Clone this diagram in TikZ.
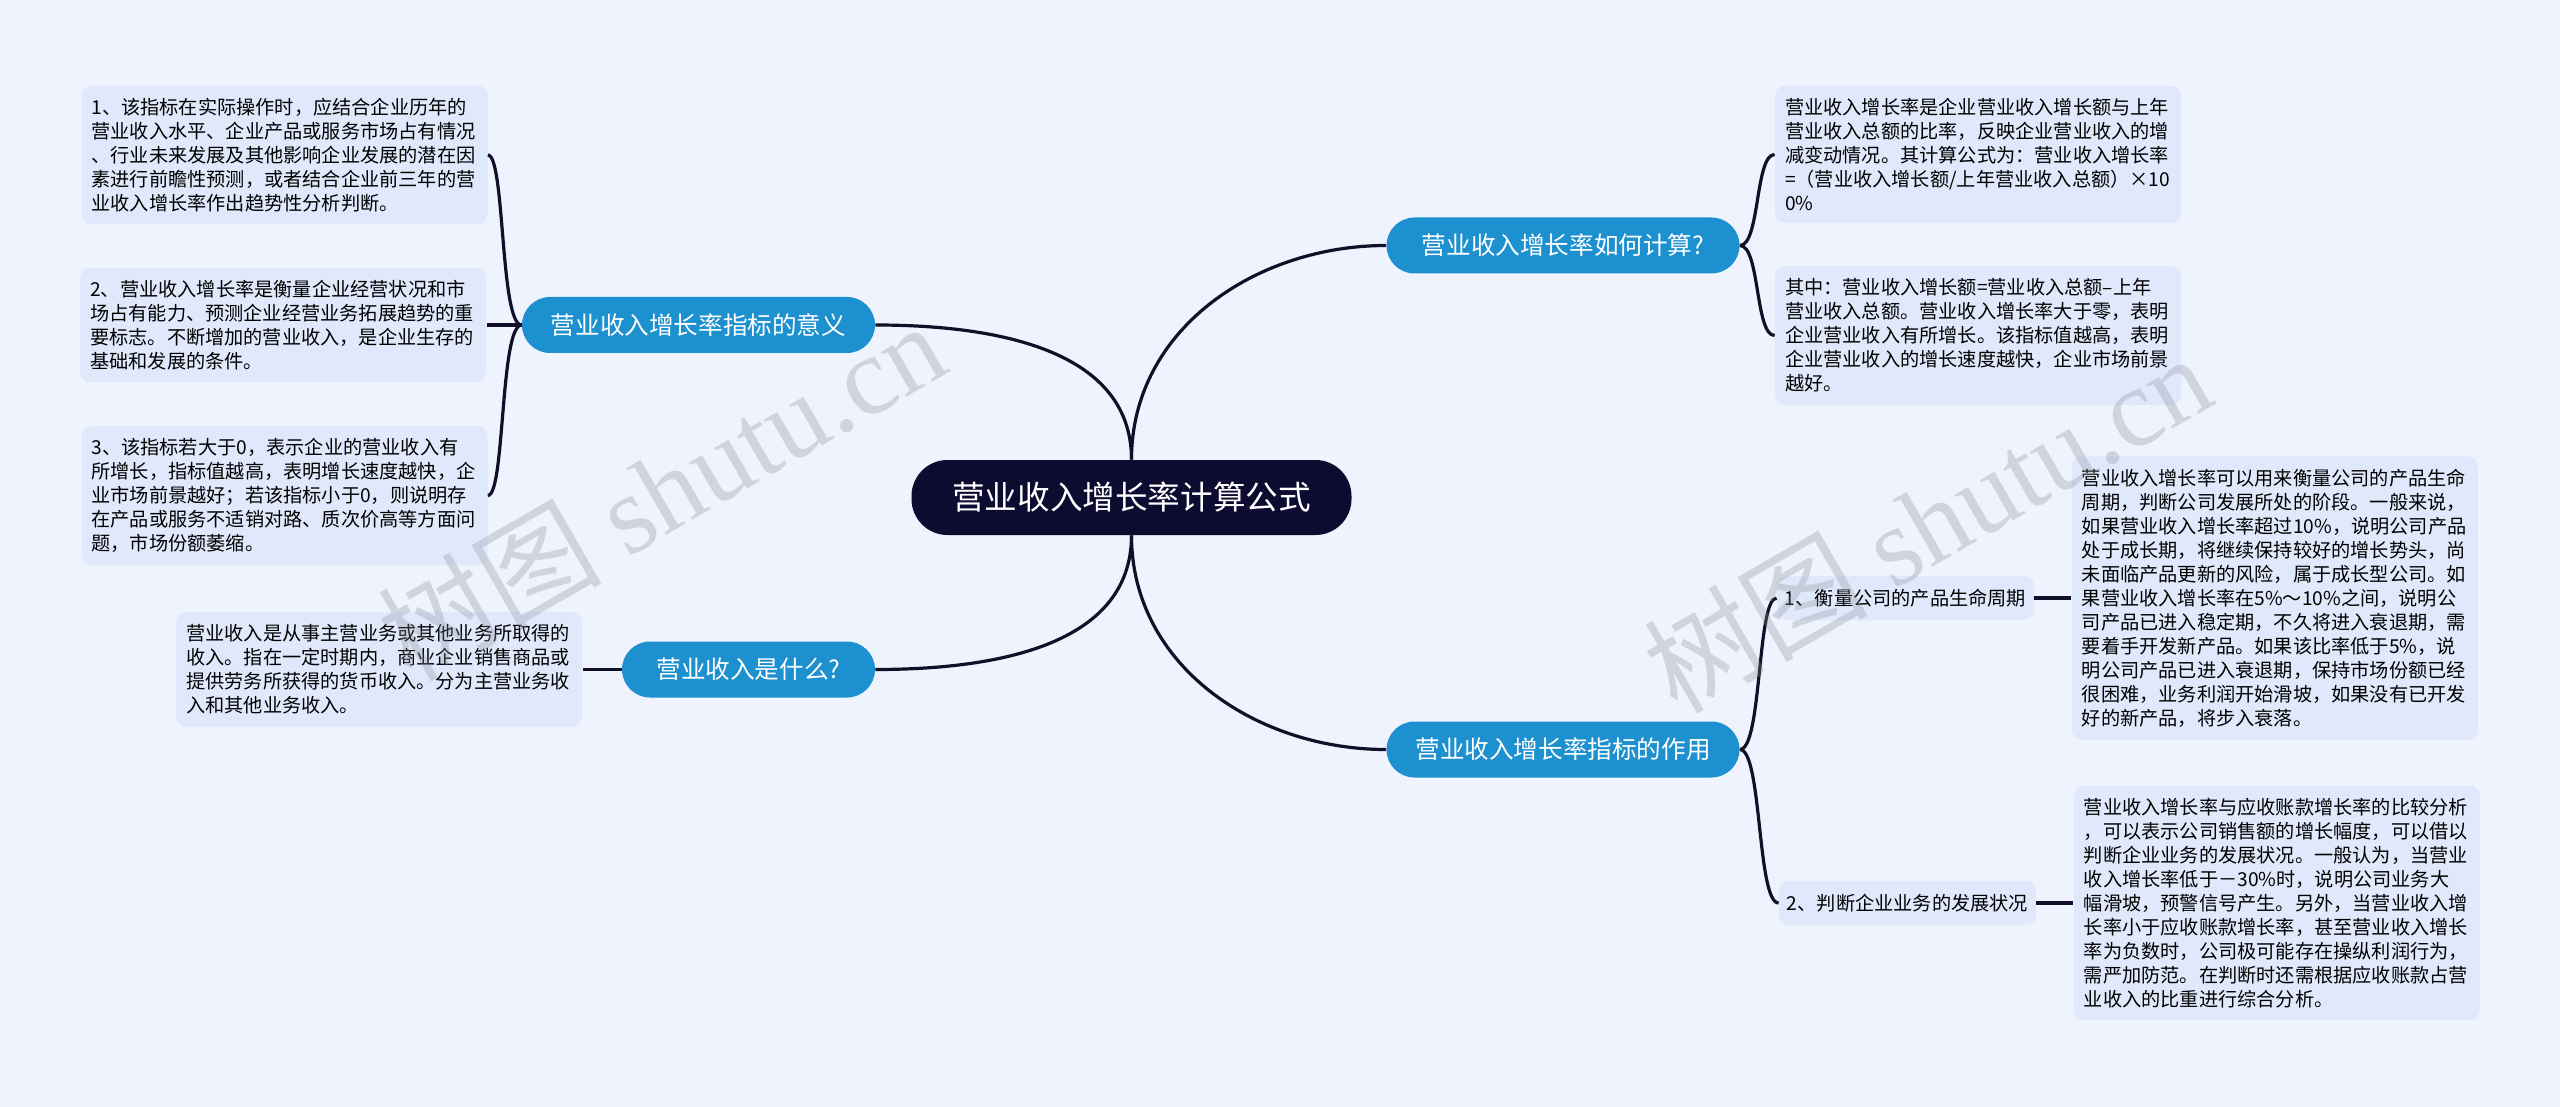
\documentclass[tikz,border=0pt]{standalone}
\usepackage{fontspec}
\setmainfont{Noto Sans CJK SC}
\newfontfamily\wmfont{Liberation Serif}
\usepackage{tikz}
\usetikzlibrary{positioning}

\definecolor{bgblue}{RGB}{238,243,253}
\definecolor{leafblue}{RGB}{224,233,251}
\definecolor{branchblue}{RGB}{29,144,208}
\definecolor{rootnavy}{RGB}{14,11,48}
\definecolor{linenavy}{RGB}{18,16,40}
\definecolor{wmgray}{RGB}{140,142,150}

\begin{document}
\begin{tikzpicture}[x=0.5pt, y=-0.5pt,
  root/.style={fill=rootnavy, text=white, rounded corners=18pt, minimum width=220pt,
    minimum height=37.5pt, font=\fontsize{16.3}{18}\selectfont},
  branch/.style={fill=branchblue, text=white, rounded corners=14pt, minimum width=176.5pt,
    minimum height=28pt, font=\fontsize{12.3}{14}\selectfont},
  leaf/.style={fill=leafblue, rounded corners=5pt, align=left, text width=193pt,
    inner xsep=5pt, inner ysep=6.2pt, font=\fontsize{9.6}{12}\selectfont},
  sub/.style={fill=leafblue, rounded corners=5pt, inner xsep=4pt, minimum height=22pt,
    font=\fontsize{9.6}{12}\selectfont},
  link/.style={draw=linenavy, line width=1.6pt},
  wm/.style={text=wmgray, opacity=0.3, rotate=30, font=\fontsize{56}{60}\selectfont}]

  \useasboundingbox (0,0) rectangle (2560,1107);
  \fill[bgblue] (0,0) rectangle (2560,1107);

  % centre and main branches
  \node[root] (root) at (1131.5,497.5) {营业收入增长率计算公式};
  \node[branch] (mean) at (698.5,325) {营业收入增长率指标的意义};
  \node[branch, minimum width=126.5pt] (what) at (748.5,669.5) {营业收入是什么?};
  \node[branch] (calc) at (1563,245.5) {营业收入增长率如何计算?};
  \node[branch] (use) at (1563,749.5) {营业收入增长率指标的作用};

  % left leaves
  \node[leaf] (l1) at (284.5,155) {1、该指标在实际操作时，应结合企业历年的\\
    营业收入水平、企业产品或服务市场占有情况\\
    、行业未来发展及其他影响企业发展的潜在因\\
    素进行前瞻性预测，或者结合企业前三年的营\\
    业收入增长率作出趋势性分析判断。};
  \node[leaf, left=17.5pt of mean] (l2) {2、营业收入增长率是衡量企业经营状况和市\\
    场占有能力、预测企业经营业务拓展趋势的重\\
    要标志。不断增加的营业收入，是企业生存的\\
    基础和发展的条件。};
  \node[leaf] (l3) at (284.5,495.5) {3、该指标若大于0，表示企业的营业收入有\\
    所增长，指标值越高，表明增长速度越快，企\\
    业市场前景越好；若该指标小于0，则说明存\\
    在产品或服务不适销对路、质次价高等方面问\\
    题，市场份额萎缩。};
  \node[leaf, left=19.5pt of what] (wdef) {营业收入是从事主营业务或其他业务所取得的\\
    收入。指在一定时期内，商业企业销售商品或\\
    提供劳务所获得的货币收入。分为主营业务收\\
    入和其他业务收入。};

  % right leaves
  \node[leaf] (r1) at (1978,154.5) {营业收入增长率是企业营业收入增长额与上年\\
    营业收入总额的比率，反映企业营业收入的增\\
    减变动情况。其计算公式为：营业收入增长率\\
    =（营业收入增长额/上年营业收入总额）×10\\
    0\%};
  \node[leaf] (r2) at (1978,335.5) {其中：营业收入增长额=营业收入总额–上年\\
    营业收入总额。营业收入增长率大于零，表明\\
    企业营业收入有所增长。该指标值越高，表明\\
    企业营业收入的增长速度越快，企业市场前景\\
    越好。};
  \node[sub] (life) at (1905.5,598) {1、衡量公司的产品生命周期};
  \node[sub] (trend) at (1907.5,903) {2、判断企业业务的发展状况};
  \node[leaf, right=18.5pt of life] (r3) {营业收入增长率可以用来衡量公司的产品生命\\
    周期，判断公司发展所处的阶段。一般来说，\\
    如果营业收入增长率超过10\%，说明公司产品\\
    处于成长期，将继续保持较好的增长势头，尚\\
    未面临产品更新的风险，属于成长型公司。如\\
    果营业收入增长率在5\%～10\%之间，说明公\\
    司产品已进入稳定期，不久将进入衰退期，需\\
    要着手开发新产品。如果该比率低于5\%，说\\
    明公司产品已进入衰退期，保持市场份额已经\\
    很困难，业务利润开始滑坡，如果没有已开发\\
    好的新产品，将步入衰落。};
  \node[leaf, right=18.5pt of trend] (r4) {营业收入增长率与应收账款增长率的比较分析\\
    ，可以表示公司销售额的增长幅度，可以借以\\
    判断企业业务的发展状况。一般认为，当营业\\
    收入增长率低于－30\%时，说明公司业务大\\
    幅滑坡，预警信号产生。另外，当营业收入增\\
    长率小于应收账款增长率，甚至营业收入增长\\
    率为负数时，公司极可能存在操纵利润行为，\\
    需严加防范。在判断时还需根据应收账款占营\\
    业收入的比重进行综合分析。};

  % connectors
  \draw[link] (mean.east) to[out=0, in=90] (root.north);
  \draw[link] (what.east) to[out=0, in=-90] (root.south);
  \draw[link] (root.north) to[out=90, in=180] (calc.west);
  \draw[link] (root.south) to[out=-90, in=180] (use.west);

  \draw[link] (mean.west) .. controls (500,325) and (505,155) .. (l1.east);
  \draw[link] (mean.west) -- (l2.east);
  \draw[link] (mean.west) .. controls (500,325) and (505,495.5) .. (l3.east);
  \draw[link] (what.west) -- (wdef.east);

  \draw[link] (calc.east) .. controls (1760,245.5) and (1755,154.5) .. (r1.west);
  \draw[link] (calc.east) .. controls (1760,245.5) and (1755,335.5) .. (r2.west);
  \draw[link] (use.east) .. controls (1762,749.5) and (1757,598) .. (life.west);
  \draw[link] (use.east) .. controls (1762,749.5) and (1757,903) .. (trend.west);
  \draw[link] (life.east) -- (r3.west);
  \draw[link] (trend.east) -- (r4.west);

  % watermarks
  \node[wm] (wm1) at (661,490) {树图 {\wmfont shutu.cn}};
  \node[wm] (wm2) at (1927,522) {树图 {\wmfont shutu.cn}};
\end{tikzpicture}
\end{document}
